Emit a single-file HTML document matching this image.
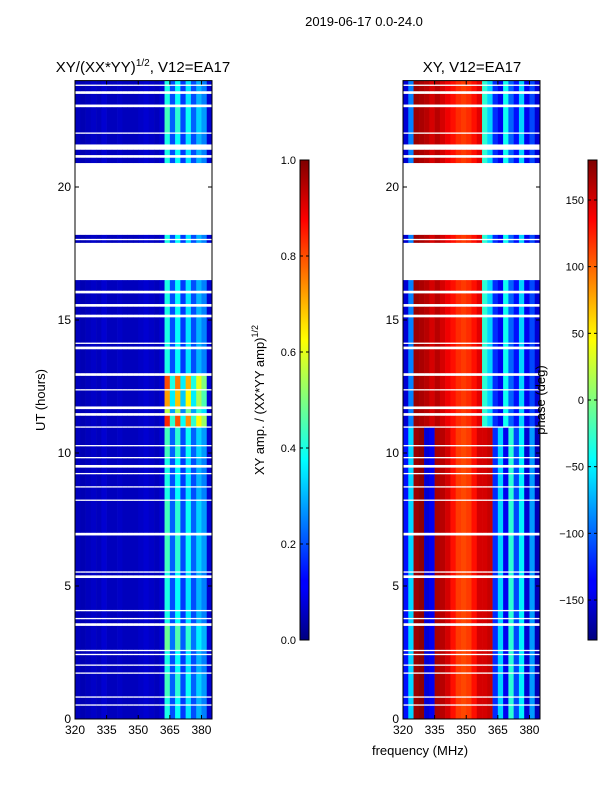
<!DOCTYPE html>
<html><head><meta charset="utf-8"><style>
body{margin:0;background:#fff;font-family:"Liberation Sans",sans-serif}
svg text{font-family:"Liberation Sans",sans-serif}
</style></head><body>
<svg id="fig" width="600" height="800" xmlns="http://www.w3.org/2000/svg">
<defs>
<linearGradient id="jet" x1="0" y1="1" x2="0" y2="0">
<stop offset="0" stop-color="#00007f"/><stop offset="0.11" stop-color="#0000ff"/><stop offset="0.125" stop-color="#0000ff"/>
<stop offset="0.34" stop-color="#00dfff"/><stop offset="0.375" stop-color="#00ffff"/>
<stop offset="0.5" stop-color="#7fff7f"/><stop offset="0.625" stop-color="#ffff00"/><stop offset="0.66" stop-color="#ffdf00"/>
<stop offset="0.875" stop-color="#ff0000"/><stop offset="1" stop-color="#7f0000"/>
</linearGradient>
</defs>
<text x="364" y="26" font-size="13" text-anchor="middle">2019-06-17 0.0-24.0</text>
<text x="143" y="72" font-size="15" text-anchor="middle">XY/(XX*YY)<tspan font-size="10" dy="-6">1/2</tspan><tspan dy="6">, V12=EA17</tspan></text>
<text x="472" y="72" font-size="15" text-anchor="middle">XY, V12=EA17</text>
<g id="left"></g>
<g id="right"></g>
<text transform="translate(45,400) rotate(-90)" font-size="13" text-anchor="middle">UT (hours)</text>
<text x="420" y="755" font-size="13" text-anchor="middle">frequency (MHz)</text>
<g id="cb1"></g>
<g id="cb2"></g>
<text transform="translate(264,400) rotate(-90)" font-size="13" text-anchor="middle">XY amp. / (XX*YY amp)<tspan font-size="9" dy="-6">1/2</tspan></text>
<text transform="translate(545,400) rotate(-90)" font-size="13" text-anchor="middle">phase (deg)</text>
</svg>
<script>
const NS="http://www.w3.org/2000/svg";
// channel bins (MHz, lower edges, 2.5 MHz wide)
const chanStart=[320,322.5,325,327.5,330,332.5,335,337.5,340,342.5,345,347.5,350,352.5,355,357.5,360,362.5,365,367.5,370,372.5,375,377.5,380,382.5];
const ampProfile=[0.06,0.05,0.06,0.07,0.06,0.08,0.06,0.06,0.07,0.06,0.06,0.06,0.07,0.08,0.07,0.06,0.08,0.4,0.2,0.38,0.18,0.35,0.2,0.3,0.25,0.08];
const phaseEarly=[-130,-60,170,175,-150,-140,165,160,150,130,115,110,115,130,150,150,155,-120,-60,-140,-30,-110,-50,-150,-80,-160];
const phaseLate=[-150,-90,170,165,160,150,160,150,140,130,120,115,120,130,145,-30,-60,-120,-140,-40,-100,-130,-60,-140,-110,-150];
// data segments (hours) with amplitude boost of RFI channels and phase regime (0 early,1 late)
const segStart=[0,0.55,0.85,1.75,2.05,2.45,2.6,3.6,3.8,4.1,5.4,5.55,7.0,8.25,8.75,9.25,9.55,9.85,10.3,11.0,11.5,11.75,12.4,13.0,14.0,14.15,15.2,15.6,16.1,17.9,18.05,20.9,21.2,21.6,22.05,23.1,23.6,23.85];
const segEnd=[0.5,0.8,1.7,2.0,2.4,2.55,3.5,3.75,4.05,5.3,5.5,6.9,8.2,8.7,9.2,9.45,9.8,10.25,10.95,11.4,11.65,12.35,12.9,13.9,14.1,15.1,15.5,16.0,16.5,18.0,18.2,21.1,21.4,22.0,23.0,23.5,23.8,24];
const segBoost=[1,1,1.1,1,1,1,1.2,1,1,1,1,1.1,1.1,1,1,1,1,1.1,1.1,2.1,1.4,1.8,2.0,1,1,1,1,1,1,1,1,1,1,1,1.1,1,1,1];
const segPhase=[0,0,0,0,0,0,0,0,0,0,0,0,0,0,0,0,0,0,0,1,1,1,1,1,1,1,1,1,1,1,1,1,1,1,1,1,1,1];
const ampTicks=[0,0.2,0.4,0.6,0.8,1.0];
const phaseTicks=[-150,-100,-50,0,50,100,150];
const xTicks=[320,335,350,365,380];
const yTicks=[0,5,10,15,20];

function jet(v){v=Math.max(0,Math.min(1,v));
 const r=Math.max(0,Math.min(1,1.5-Math.abs(4*v-3))),g=Math.max(0,Math.min(1,1.5-Math.abs(4*v-2))),b=Math.max(0,Math.min(1,1.5-Math.abs(4*v-1)));
 return `rgb(${Math.round(r*255)},${Math.round(g*255)},${Math.round(b*255)})`;}
const T=719,B=80.6;
const yS=h=>T-(h/24)*(T-B);
function mk(tag,attrs,parent){const e=document.createElementNS(NS,tag);for(const k in attrs)e.setAttribute(k,attrs[k]);parent.appendChild(e);return e;}
function panel(gid,x0,isPhase){
 const g=document.getElementById(gid);const w=137;
 const xS=f=>x0+(f-320)/65*w;
 segStart.forEach((s,i)=>{
  chanStart.forEach((c,j)=>{
   let v;
   if(isPhase){const p=(segPhase[i]?phaseLate:phaseEarly)[j];v=(p+180)/360;}
   else{v=ampProfile[j]*(ampProfile[j]>0.15?segBoost[i]:1);}
   const r=mk('rect',{x:xS(c),y:yS(segEnd[i]),width:xS(c+2.5)-xS(c)+0.3,height:yS(s)-yS(segEnd[i]),fill:jet(v)},g);
   
   
  });
 });
 mk('rect',{x:x0,y:B,width:w,height:T-B,fill:'none',stroke:'#000','stroke-width':1},g);
 xTicks.forEach(t=>{const x=xS(t);
  mk('line',{x1:x,x2:x,y1:T,y2:T-4,stroke:'#000'},g);mk('line',{x1:x,x2:x,y1:B,y2:B+4,stroke:'#000'},g);
  const tx=mk('text',{x:x,y:T+15,'font-size':12,'text-anchor':'middle'},g);tx.textContent=t;
  
  });
 yTicks.forEach(t=>{const y=yS(t);
  mk('line',{x1:x0,x2:x0+4,y1:y,y2:y,stroke:'#000'},g);mk('line',{x1:x0+w,x2:x0+w-4,y1:y,y2:y,stroke:'#000'},g);
  const tx=mk('text',{x:x0-4,y:y+4,'font-size':12,'text-anchor':'end'},g);tx.textContent=t;
  
  });
}
panel('left',75,false);panel('right',403,true);
function cbar(gid,x,ticks,lo,hi){
 const g=document.getElementById(gid);
 mk('rect',{x:x,y:160,width:9,height:480,fill:'url(#jet)',stroke:'#000'},g);
 ticks.forEach(t=>{const y=640-(t-lo)/(hi-lo)*480;
  mk('line',{x1:x,x2:x+3,y1:y,y2:y,stroke:'#000'},g);mk('line',{x1:x+9,x2:x+6,y1:y,y2:y,stroke:'#000'},g);
  const tx=mk('text',{x:x-4,y:y+4,'font-size':11,'text-anchor':'end'},g);
  tx.textContent=gid==='cb1'?t.toFixed(1):(t<0?'\u2212'+(-t):t);
  
  });
}
cbar('cb1',300,ampTicks,0,1);cbar('cb2',588,phaseTicks,-180,180);
</script>
</body></html>
